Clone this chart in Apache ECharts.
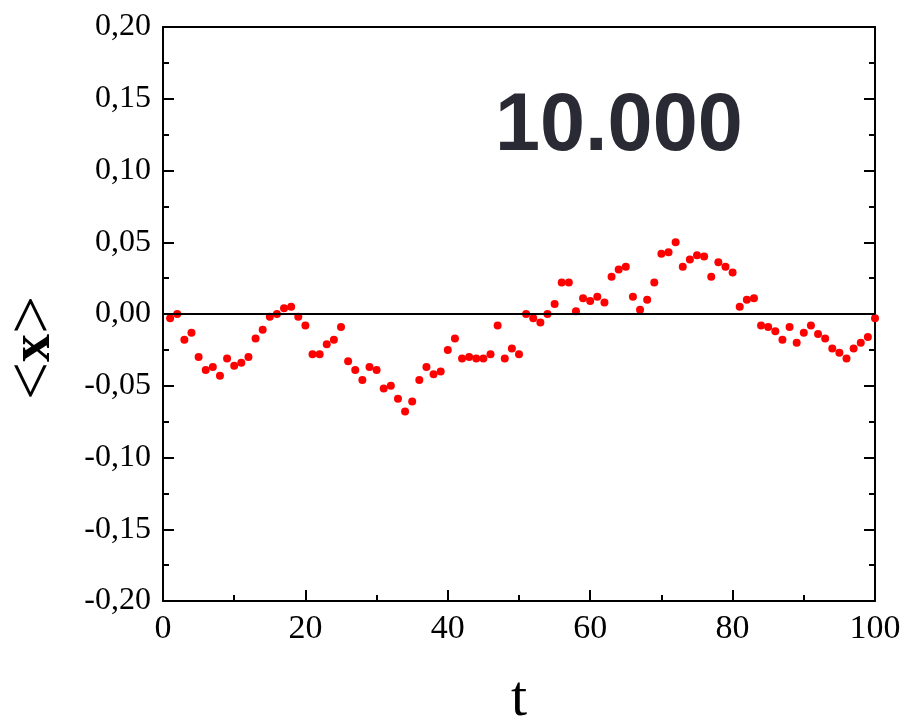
<!DOCTYPE html>
<html>
<head>
<meta charset="utf-8">
<script src="https://cdn.jsdelivr.net/npm/echarts@6/dist/echarts.min.js"></script>
<style>html,body{margin:0;padding:0;background:#fff;}#c{width:921px;height:722px;}</style>
</head>
<body>
<div id="c"></div>
<script>
const tValues = [];
for (let i = 1; i <= 100; i++) tValues.push(i);
const xValues = [
 -0.003, 0.000, -0.018, -0.013, -0.030, -0.039, -0.037, -0.043, -0.031, -0.036,
 -0.034, -0.030, -0.017, -0.011, -0.002, 0.000, 0.004, 0.005, -0.002, -0.008,
 -0.028, -0.028, -0.021, -0.018, -0.009, -0.033, -0.039, -0.046, -0.037, -0.039,
 -0.052, -0.050, -0.059, -0.068, -0.061, -0.046, -0.037, -0.042, -0.040, -0.025,
 -0.017, -0.031, -0.030, -0.031, -0.031, -0.028, -0.008, -0.031, -0.024, -0.028,
 0.000, -0.003, -0.006, 0.000, 0.007, 0.022, 0.022, 0.002, 0.011, 0.009,
 0.012, 0.008, 0.026, 0.031, 0.033, 0.012, 0.003, 0.010, 0.022, 0.042,
 0.043, 0.050, 0.033, 0.038, 0.041, 0.040, 0.026, 0.036, 0.033, 0.029,
 0.005, 0.010, 0.011, -0.008, -0.009, -0.012, -0.018, -0.009, -0.020, -0.013,
 -0.008, -0.014, -0.017, -0.024, -0.027, -0.031, -0.024, -0.020, -0.016, -0.003
];
const yTicks = [-0.20, -0.15, -0.10, -0.05, 0.00, 0.05, 0.10, 0.15, 0.20];
const xTicks = [0, 20, 40, 60, 80, 100];
const label = "10.000";

const points = tValues.map((t, i) => [t, xValues[i]]);
const chart = echarts.init(document.getElementById('c'), null, {renderer: 'canvas'});
const axLine = {show: true, onZero: false, lineStyle: {color: '#000', width: 2}};
const tick = {show: true, inside: true, length: 11, lineStyle: {color: '#000', width: 2}};
const minor = {show: true, splitNumber: 2, length: 6, lineStyle: {color: '#000', width: 2}};
chart.setOption({
  animation: false,
  backgroundColor: '#fff',
  grid: {left: 163, right: 46, top: 27, bottom: 121, containLabel: false, outerBoundsMode: 'none'},
  xAxis: [{
    type: 'value', min: xTicks[0], max: xTicks[xTicks.length - 1], interval: 20,
    axisLine: axLine, axisTick: tick, minorTick: minor,
    splitLine: {show: false},
    axisLabel: {color: '#000', fontFamily: 'Liberation Serif', fontSize: 34, margin: 11},
    name: 't', nameLocation: 'middle', nameGap: 70,
    nameTextStyle: {color: '#000', fontFamily: 'Liberation Serif', fontSize: 58}
  }, {
    type: 'value', position: 'top', min: 0, max: 100,
    axisLine: axLine, axisTick: {show: false}, axisLabel: {show: false}, splitLine: {show: false}
  }],
  yAxis: [{
    type: 'value', min: yTicks[0], max: yTicks[yTicks.length - 1], interval: 0.05,
    axisLine: axLine, axisTick: tick, minorTick: minor,
    splitLine: {show: false},
    axisLabel: {color: '#000', fontFamily: 'Liberation Serif', fontSize: 32, margin: 12,
      formatter: v => v.toFixed(2).replace('.', ',')},
    name: '{b|<}{x|x}{b|>}', nameLocation: 'middle', nameGap: 94, nameRotate: 90,
    nameTextStyle: {color: '#000', fontFamily: 'Liberation Serif', fontSize: 46,
      padding: [0, 68, 0, 0],
      rich: {
        b: {fontFamily: 'Liberation Serif', fontSize: 68, color: '#000'},
        x: {fontFamily: 'Liberation Serif', fontSize: 56, fontWeight: 'bold', color: '#000'}
      }}
  }, {
    type: 'value', position: 'right', min: -0.2, max: 0.2, interval: 0.05,
    axisLine: axLine, axisTick: tick, minorTick: minor,
    axisLabel: {show: false}, splitLine: {show: false}
  }],
  graphic: [{
    type: 'text', left: 495, top: 87,
    style: {text: label, fill: '#2a2a35', font: 'bold 81px "Liberation Sans"'}
  }],
  series: [{
    type: 'scatter', data: points, symbol: 'circle', symbolSize: 8,
    itemStyle: {color: '#ff0000', opacity: 1},
    markLine: {
      silent: true, symbol: 'none', label: {show: false},
      lineStyle: {color: '#000', width: 2, type: 'solid'},
      data: [{yAxis: 0}]
    }
  }]
});
</script>
</body>
</html>
